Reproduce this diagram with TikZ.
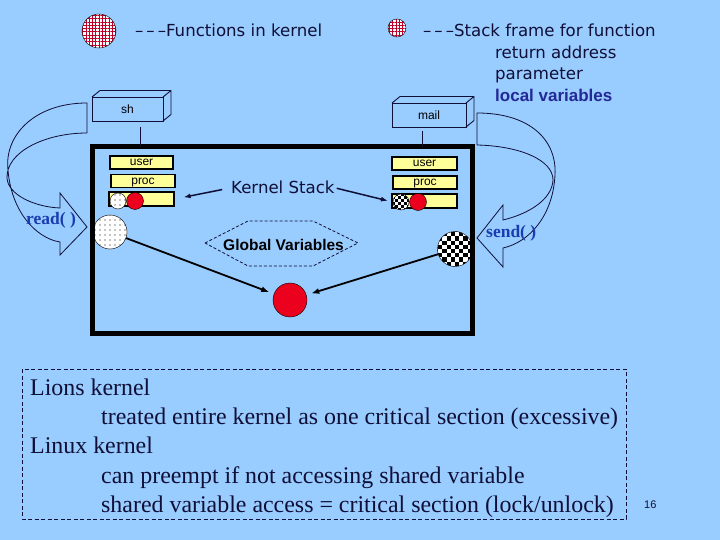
\documentclass[tikz,border=0pt]{standalone}
\usepackage{fontspec}
\setmainfont{Liberation Serif}
\newfontfamily\lblfont{DejaVu Sans}
\newfontfamily\arialfont{Liberation Sans}
\usetikzlibrary{patterns.meta,arrows.meta}

\definecolor{slidebg}{RGB}{153,204,255}
\definecolor{ink}{RGB}{15,15,55}
\definecolor{navy}{RGB}{35,40,150}
\definecolor{fnblue}{RGB}{25,60,175}
\definecolor{stackyellow}{RGB}{255,255,153}
\definecolor{hotred}{RGB}{235,0,30}
\definecolor{gridred}{RGB}{190,0,40}

\begin{document}
\begin{tikzpicture}[x=1pt,y=-1pt,
    ybox/.style={draw, line width=1.5pt, fill=stackyellow, minimum width=64pt, minimum height=13pt, inner sep=0pt, text height=6.5pt, text depth=0pt, font=\arialfont\fontsize{12}{12}\selectfont},
    ball/.style={circle, draw, inner sep=0pt, minimum size=#1},
    redball/.style={ball=#1, fill=hotred},
    dotball/.style={ball=#1, preaction={fill=white}, pattern={Dots[distance=5pt,radius=0.55pt]}, pattern color=black},
    gridball/.style={ball=#1, preaction={fill=white}, pattern={Hatch[distance=3.3pt,line width=0.6pt]}, pattern color=gridred},
    chkball/.style 2 args={ball=#1, fill=white, path picture={
        \foreach \i in {-6,...,5} \foreach \j in {-6,...,5} {
          \pgfmathtruncatemacro\odd{mod(\i+\j+20,2)}
          \ifnum\odd=0 \fill[black] ([shift={({\i*#2},{\j*#2})}]path picture bounding box.center) rectangle ++(#2,#2); \fi}}},
    procbox/.style={draw=ink, line width=0.9pt, inner sep=0pt, outer sep=0pt, minimum height=24pt, font=\arialfont\fontsize{12}{12}\selectfont},
    band/.style={draw=ink, line width=0.8pt},
    lbl/.style={anchor=base west, inner sep=0pt, text=ink, font=\lblfont\fontsize{16.6}{18}\selectfont},
    body/.style={anchor=base west, inner sep=0pt, text=ink, font=\fontsize{23.9}{28}\selectfont},
    call/.style={anchor=base west, inner sep=0pt, text=fnblue, font=\bfseries\fontsize{17.5}{18}\selectfont},
    ptr/.style={-{Latex[length=8pt,width=6pt]}, line width=1.8pt, shorten >=5pt}]

    \useasboundingbox (0,0) rectangle (720,540);
    \fill[slidebg] (0,0) rectangle (720,540);

    % legend
    \node[gridball=34pt] (fnkey) at (99,31) {};
    \node[lbl] (fntext) at (135,37) {–\hspace{3pt}–\hspace{3pt}–Functions in kernel};
    \node[gridball=18pt] (sfkey) at (397,28) {};
    \node[lbl] (sftext) at (423,37) {–\hspace{3pt}–\hspace{3pt}–Stack frame for function};
    \node[lbl] (retaddr) at (495,59) {return address};
    \node[lbl] (param) at (495,80) {parameter};
    \node[lbl, text=navy, font=\arialfont\bfseries\fontsize{17}{18}\selectfont] (locvars) at (495,102) {local variables};

    % processes
    \node[procbox, minimum width=71pt] (sh) at (127.5,109) {sh};
    \draw[ink, line width=0.9pt] (sh.north west) -- ++(8pt,6.5pt) -- ([shift={(8pt,6.5pt)}]sh.north east)
        -- ([shift={(8pt,6.5pt)}]sh.south east) -- (sh.south east)
        (sh.north east) -- ++(8pt,6.5pt);
    \node[procbox, minimum width=74pt] (mail) at (429,115) {mail};
    \draw[ink, line width=0.9pt] (mail.north west) -- ++(8pt,6.5pt) -- ([shift={(8pt,6.5pt)}]mail.north east)
        -- ([shift={(8pt,6.5pt)}]mail.south east) -- (mail.south east)
        (mail.north east) -- ++(8pt,6.5pt);

    % kernel stacks
    \node[ybox, minimum width=63pt] (luser) at (141.5,162.5) {user};
    \node[ybox] (lproc) at (143,181) {proc};
    \node[ybox, minimum width=65pt, minimum height=14pt] (lframe) at (141.5,199) {};
    \node[dotball=16pt] (lret) at (118,201) {};
    \node[redball=17pt] (lvar) at (135,201) {};

    \node[ybox, minimum width=65pt] (ruser) at (424.5,163.5) {user};
    \node[ybox] (rproc) at (425,182.5) {proc};
    \node[ybox, minimum width=65pt, minimum height=14pt] (rframe) at (424.5,201) {};
    \node[chkball={16pt}{3pt}] (rret) at (401,202) {};
    \node[redball=17pt] (rvar) at (418,202) {};

    \node[lbl] (kstack) at (231,194) {Kernel Stack};
    \draw[ink, line width=1.5pt, -{Latex[length=7pt,width=5pt]}, shorten <=9pt, shorten >=9pt] (kstack.west) -- (lframe.east);
    \draw[ink, line width=1.5pt, -{Latex[length=7pt,width=5pt]}, shorten <=2pt, shorten >=5pt] (kstack.east) -- (rret.west);

    % global variables
    \node[anchor=base west, inner sep=0pt, font=\arialfont\bfseries\fontsize{15.5}{16}\selectfont] (gvars) at (223,250) {Global Variables};
    \draw[ink, line width=0.8pt, dash pattern=on 3pt off 2pt] (205,243) -- (248,221) -- (313,221) -- (358,243) -- (313,266) -- (248,266) -- cycle;

    \node[dotball=34pt] (lmsg) at (110,232) {};
    \node[chkball={35pt}{4.2pt}] (rmsg) at (455,249) {};
    \node[redball=34pt] (gvar) at (290,300) {};
    \draw[ptr] (lmsg) -- (gvar);
    \draw[ptr] (rmsg) -- (gvar);

    % kernel
    \node[draw, line width=5pt, minimum width=380pt, minimum height=186pt, inner sep=0pt, outer sep=0pt] (kernel) at (282,240) {};
    \coordinate (shfoot) at ([xshift=12.5pt,yshift=-6pt]sh.south);
    \coordinate (mailfoot) at ([xshift=-7pt,yshift=-4pt]mail.south);
    \draw[ink, line width=0.9pt] (shfoot) -- (shfoot |- kernel.north);
    \draw[ink, line width=0.9pt] (mailfoot) -- (mailfoot |- kernel.north);

    % curved arrows
    \draw[band] (87,133) -- (87,103) .. controls (35,103) and (4,135) .. (8,170)
        .. controls (11,210) and (35,238) .. (60,242) -- (60,255) -- (87,227) -- (60,193) -- (60,208)
        .. controls (35,207) and (8,195) .. (7,178) .. controls (6,152) and (45,133) .. (87,133);
    \node[call] (readcall) at (26,225) {read( )};

    \draw[band] (477,145) -- (477,113) .. controls (530,113) and (557,140) .. (555,175)
        .. controls (553,215) and (530,242) .. (503,248) -- (503,267) -- (477,238) -- (503,205) -- (503,220)
        .. controls (528,214) and (552,200) .. (553,180) .. controls (553,160) and (520,146) .. (477,145);
    \node[call] (sendcall) at (486,237) {send( )};

    % notes
    \draw[ink, line width=0.8pt, dash pattern=on 4pt off 2.5pt] (22,369) rectangle (626,519);
    \node[body] (lions) at (30,395) {Lions kernel};
    \node[body] (lionsnote) at (101,424) {treated entire kernel as one critical section (excessive)};
    \node[body] (linux) at (30,453.5) {Linux kernel};
    \node[body] (preempt) at (101,483) {can preempt if not accessing shared variable};
    \node[body] (lock) at (101,512) {shared variable access = critical section (lock/unlock)};
    \node[anchor=base west, inner sep=0pt, text=ink, font=\arialfont\fontsize{11}{12}\selectfont] (pagenum) at (644,508) {16};
\end{tikzpicture}
\end{document}
